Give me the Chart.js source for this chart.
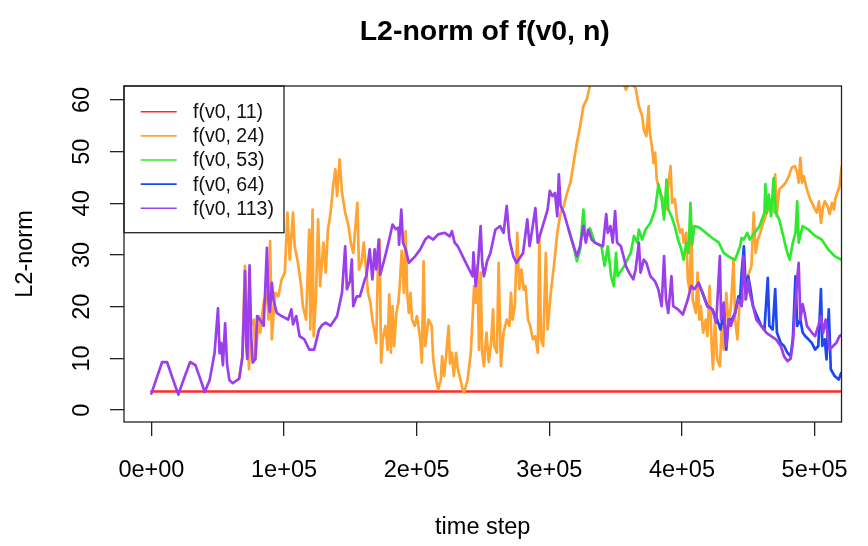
<!DOCTYPE html>
<html>
<head>
<meta charset="utf-8">
<title>L2-norm of f(v0, n)</title>
<script src="https://cdn.jsdelivr.net/npm/chart.js@4.4.1/dist/chart.umd.min.js"></script>
<style>
    html, body { margin: 0; padding: 0; background: #fff; }
    #wrap { width: 868px; height: 546px; }
</style>
</head>
<body>
<div id="wrap"><canvas id="normChart" width="868" height="546"></canvas></div>
<script>
// axis ticks
var xTicks = [0, 100000, 200000, 300000, 400000, 500000]
var xTickLabels = ['0e+00', '1e+05', '2e+05', '3e+05', '4e+05', '5e+05']
var yTicks = [0, 10, 20, 30, 40, 50, 60]
var yTickLabels = ['0', '10', '20', '30', '40', '50', '60']

// series names
var seriesNames = ['f(v0, 11)', 'f(v0, 24)', 'f(v0, 53)', 'f(v0, 64)', 'f(v0, 113)']

// f(v0, 11)
var redSteps = [0, 520500]
var redL2 = [3.6, 3.6]

// f(v0, 24) - hidden under f(v0, 113) before ~66000
var orangeSteps = [66200, 68600, 70500, 73600, 74900, 77300, 78400, 81000, 82100, 84600, 87100, 88300, 89500, 90800,
    93200, 95700, 98200, 100600, 102600, 104300, 106800, 108000, 110500, 112900, 114200, 116600, 119000, 119800,
    121500, 122300, 124000, 125700, 127200, 129700, 131400, 133100, 135100, 137000, 138700, 140000, 141900, 143700,
    146100, 148600, 150300, 152200, 155300, 156500, 158400, 160100, 161600, 163300, 165100, 166600, 168300, 169500,
    170700, 172000, 173200, 174400, 176400, 178100, 179300, 180600, 181800, 183000, 184700, 186200, 187200, 188700,
    190400, 191700, 192800, 194100, 195300, 196500, 198500, 200200, 202700, 203900, 205200, 206400, 208900, 211300,
    212500, 214200, 216200, 218200, 219200, 220700, 222400, 224100, 225100, 226600, 228000, 229700, 231000, 233000,
    234700, 235900, 238400, 240800, 242100, 243300, 244500, 245800, 247000, 248200, 249400, 250700, 252600, 254400,
    256100, 257600, 258500, 260500, 261800, 263500, 265500, 267900, 269900, 271100, 272300, 274000, 275800, 277300,
    279000, 280700, 282100, 283900, 285600, 287600, 289500, 291300, 292500, 293700, 295400, 297400, 298700, 301100,
    303500, 306000, 308500, 310900, 313400, 315900, 318300, 320800, 323200, 325700, 328200, 330600, 334300, 339500,
    345400, 351300, 355700, 357700, 360900, 365100, 367500, 370000, 371200, 373200, 374900, 375600, 377300, 378600,
    379800, 381000, 383500, 386000, 388000, 389700, 391400, 392600, 394600, 396300, 398700, 400200, 401300, 403200,
    404400, 405700, 407200, 408100, 410500, 411800, 413100, 414200, 416000, 417900, 419200, 420900, 422400, 423400,
    424900, 426600, 428600, 430300, 431500, 433400, 435200, 436900, 438900, 440100, 441800, 443300, 445000, 446700,
    448700, 450700, 452400, 454100, 455600, 457300, 459000, 460500, 462200, 464000, 465900, 467900, 469600, 470300,
    471400, 473300, 475800, 478200, 480700, 482700, 485100, 486900, 488000, 489300, 490500, 491700, 494200, 496700,
    499100, 501600, 503300, 504800, 506500, 507700, 509700, 511400, 513100, 514600, 515600, 517100, 518800, 520500]
var orangeL2 = [6.1, 10.3, 27.9, 7.9, 16.3, 17.5, 9.8, 18.2, 15, 20.8, 22.7, 17.5, 32.7, 13.7,
    22.7, 22, 25.3, 26.6, 38.2, 29.1, 38.2, 31.7, 28.5, 24, 20.1, 17.5, 34.9, 15.6,
    38.8, 14.3, 21.4, 36.9, 24, 32.4, 26.6, 34.9, 38.2, 43.3, 46.6, 41.4, 48.5, 42,
    38.2, 35.6, 32.4, 30.4, 40.1, 27.2, 28.5, 32.4, 27.9, 22.7, 20.8, 17.5, 15, 13,
    26.6, 33, 9.2, 13.7, 16.3, 11.7, 22.4, 11.1, 20.1, 12.4, 18.8, 20.8, 24, 30.8,
    22.7, 34.6, 22.7, 18.8, 22.7, 17.5, 16.3, 18.2, 13.7, 9.2, 28.8, 12.4, 17.5, 16.3,
    9.8, 6.6, 4, 5.9, 10.4, 6.6, 11.1, 16.3, 9, 11.1, 6.6, 11.1, 7.9, 5.9,
    4, 3.4, 5.9, 11.1, 17.5, 24, 20.8, 27.9, 11.7, 26.6, 11.1, 8.5, 15, 9.3,
    13, 19.5, 12.4, 11.1, 28.5, 8.5, 15, 17.5, 16.3, 22.7, 17.5, 20.1, 34.3, 23.4,
    27.2, 23.3, 24, 17.5, 16.3, 13.7, 14.3, 11.1, 33.7, 13.7, 12.4, 30.4, 15.6, 22.7,
    27.9, 34.3, 38.2, 39.5, 42, 44, 47.8, 51.7, 54.9, 58.8, 60.1, 62.7, 65.5, 68,
    69, 67, 63.5, 62, 63.5, 62.3, 58.8, 56.9, 54.3, 53, 58.8, 54, 51.1, 47.8,
    49.8, 44.6, 42, 40.8, 38.8, 43.3, 47.2, 40.1, 40.8, 36.9, 34.3, 35, 32.4, 34.3,
    25.3, 23.3, 35.6, 21.4, 18.8, 26.6, 17.5, 20.1, 15, 17.5, 14.3, 24, 12.4, 7.9,
    17.5, 9.8, 8.5, 17.5, 11.7, 22.7, 16.3, 20.1, 29.1, 17.5, 13.7, 20.1, 20.8, 21.4,
    25.3, 26.6, 27.9, 38.2, 30.4, 33, 34.3, 35.6, 36.9, 38.2, 39.5, 40.8, 38.2, 45.6,
    37.5, 42.7, 43.3, 44, 45.3, 46.9, 47.2, 46, 44, 48.8, 44, 45.3, 42.7, 40.8,
    39.5, 38.2, 40.4, 36.2, 39.5, 40.4, 39.5, 37.9, 40.1, 38.8, 40.8, 42, 43.3, 47.2]

// f(v0, 53) - hidden under f(v0, 113) before ~314000
var greenSteps = [314600, 318300, 320800, 323200, 325700, 327500, 330600, 334300, 339300, 341700, 344100, 346600,
    348600, 350300, 351500, 356500, 361400, 363800, 366300, 367500, 370000, 372500, 376200, 379800, 382300, 384700,
    386500, 388400, 389700, 392100, 394600, 397000, 399500, 401300, 403200, 404900, 406400, 407600, 409400, 413100,
    417900, 422900, 427800, 431500, 436400, 440100, 443800, 445000, 446700, 449200, 451100, 454800, 458500, 462200,
    462900, 464000, 465500, 467200, 469100, 470800, 473300, 477000, 478700, 481200, 483600, 485600, 486900, 488000,
    491000, 495400, 500400, 505300, 510200, 515100, 520100]
var greenL2 = [34.9, 31.7, 28.8, 31, 38.8, 33, 35.2, 32.4, 31.7, 27.9, 31.7, 25.9,
    24, 30.4, 25.9, 27.9, 30.4, 33.7, 32.4, 34.9, 33, 34.9, 36.2, 38.8, 43.7, 40.8,
    36.9, 44.6, 38.8, 37.5, 35.6, 33, 31.1, 29.1, 32.4, 30.4, 40.1, 32, 35.6, 35.3,
    34.3, 33.3, 32.4, 30.4, 29.5, 29.1, 31.7, 33.3, 33, 34.3, 33, 34.3, 35.6, 38.2,
    43.7, 38.2, 41.7, 37.5, 44.9, 38.2, 36.9, 33, 31.1, 29.1, 32.4, 34.3, 40.4, 32.4,
    35.6, 34.9, 33.7, 33, 31.1, 29.8, 29.1]

// f(v0, 64) - hidden under f(v0, 113) before ~412000
var blueSteps = [412500, 415500, 419200, 422900, 426600, 429000, 431500, 433400, 435200, 437600, 440100, 442600,
    443800, 445000, 446700, 448200, 450000, 451700, 453600, 456600, 459800, 462200, 464700, 465900, 468400, 470300,
    471600, 474500, 477000, 479500, 481900, 483600, 485600, 486900, 489300, 491000, 493000, 495400, 497900, 500400,
    502800, 504800, 505800, 507700, 509000, 510700, 512200, 515100, 518100, 520100]
var blueL2 = [24.6, 22.7, 20.1, 19.5, 17.5, 15.6, 18.8, 11.7, 17.5, 17.5, 18.8, 22,
    21.4, 26.6, 31.7, 22.7, 25.9, 23.4, 20.1, 18.2, 16.3, 15.6, 25.6, 16.3, 15.6, 23.4,
    15, 13, 12.4, 11.1, 10.4, 13.7, 25.9, 16.3, 17.5, 15, 14.3, 13.7, 13, 11.7,
    12.4, 23.4, 12.4, 13.7, 9.8, 19.5, 7.9, 6.6, 5.9, 7.2]

// f(v0, 113)
var purpleSteps = [0, 3700, 8100, 11800, 16200, 20300, 24400, 29200, 33200, 36900, 40200, 43900, 47600, 50200,
    51400, 52600, 53900, 55600, 57000, 58800, 61300, 66200, 68600, 69700, 70600, 71600, 72300, 74000, 75300, 76400,
    78400, 79700, 82100, 84600, 85600, 87100, 88300, 89300, 90800, 92000, 94500, 98200, 103100, 105500, 106800,
    109200, 111700, 115300, 119000, 122700, 126400, 128900, 131400, 135100, 140000, 143700, 146100, 147400, 149800,
    151100, 152200, 154800, 157200, 160900, 162100, 164600, 166600, 168300, 169500, 171400, 172500, 175600, 179300,
    181800, 184300, 186200, 186700, 188400, 189700, 191700, 194100, 199000, 202700, 206400, 208900, 212500, 216200,
    221200, 224900, 226600, 228600, 231000, 235900, 239600, 242100, 242800, 244500, 246300, 248200, 249400, 250700,
    253100, 255600, 259300, 262900, 265500, 267900, 269900, 272800, 275300, 280200, 283400, 285100, 287100, 289500,
    291300, 295000, 298700, 300400, 302400, 304300, 306000, 307200, 308500, 310900, 314600, 318300, 320800, 323200,
    325700, 327500, 329400, 331900, 334300, 340400, 342900, 344100, 346100, 347800, 349600, 351100, 354000, 357700,
    360100, 363300, 365100, 367500, 368800, 371200, 373200, 376200, 379800, 382300, 384700, 386500, 388000, 389700,
    392100, 393400, 397000, 400700, 404400, 406900, 409400, 412500, 415500, 419200, 422900, 425800, 428600, 429500,
    431500, 433400, 435200, 436900, 440100, 442600, 445000, 446300, 448200, 450000, 451100, 453600, 456100, 459800,
    463500, 467200, 470800, 474500, 477000, 479500, 481900, 483600, 485100, 486900, 488000, 489300, 491000, 492500,
    494200, 497900, 500400, 502800, 504800, 506500, 508300, 509700, 511400, 513900, 516400, 518800, 520500]
var purpleL2 = [3.2, 6, 9.3, 9.3, 6, 3, 6, 9.3, 8.7, 6, 3.5, 5.8, 11, 19.7,
    11, 13, 8.7, 16.8, 9, 5.8, 5.2, 6.1, 10.3, 18.7, 26.9, 12, 9.9, 28, 14, 9.2,
    9.9, 18.2, 17.4, 16.3, 22, 31.4, 20.8, 19, 24.6, 21.4, 18.8, 18.2, 17.5, 19.5, 16.6,
    18.2, 14.3, 13.7, 11.7, 11.7, 15.6, 16.5, 16.9, 16.3, 18.2, 22.7, 31.7, 23.4, 25,
    29.1, 20.1, 22, 22, 25.3, 25.9, 31.1, 25.3, 31.1, 27.2, 33, 26.2, 29.1, 33,
    35.9, 35, 35.3, 32, 38.8, 32.4, 31.1, 28.5, 29.8, 31.1, 33, 33.6, 33, 34,
    34.3, 33.6, 34.6, 32.4, 31.7, 29.1, 27.2, 25.9, 30.5, 24, 28.5, 35.6, 28.5, 25.9,
    28.8, 30.4, 34.9, 35.6, 34.3, 39.5, 33, 29.8, 28.5, 30.4, 36.9, 31.7, 34.9, 39.1,
    32.4, 35.6, 38.8, 42.4, 41.4, 42, 37.5, 45.6, 39.5, 38.2, 34.9, 31.7, 29.8, 31.7,
    35.6, 32.4, 34.9, 33, 32.4, 31.7, 37.9, 34.3, 35.6, 32.4, 38.5, 32.4, 31.7, 27.9,
    26.6, 25.3, 27.2, 32.4, 26.6, 29.1, 28.5, 25.9, 24.9, 23.3, 20.1, 29.8, 21.4, 18.8,
    25.9, 20.1, 19.5, 18.5, 21.4, 24, 23.4, 24.6, 22.7, 20.1, 19.5, 16.9, 29.8, 17.5,
    20.8, 12.4, 17.5, 16.3, 18.8, 21.4, 20.1, 29.8, 21.4, 25.3, 22.7, 20.1, 17.5, 16.3,
    15, 14.3, 13.7, 12.4, 10.4, 9.5, 9.9, 13, 18.8, 25.3, 28.5, 17.5, 20.5, 18.8,
    16.3, 15, 14.3, 16.3, 18.2, 15, 17.5, 15, 11.7, 12.4, 13, 14.3, 14.6]

var seriesColors = ['#ff2b2b', '#ffa333', '#2fe82f', '#1f48f5', '#9b3fec']

var fontFamily = '"Liberation Sans", Arial, Helvetica, sans-serif'

function toPoints(steps, values){
    return steps.map(function(s, i){ return {x: s, y: values[i]} })
}

function makeSet(i, steps, values){
    return {
        label: seriesNames[i],
        data: toPoints(steps, values),
        borderColor: seriesColors[i],
        backgroundColor: seriesColors[i],
        borderWidth: 2.7,
        pointRadius: 0,
        tension: 0,
        fill: false,
        borderJoinStyle: 'round',
        borderCapStyle: 'round',
        order: 5 - i   // last series on top, like R draws them
    }
}

// R-style frame, legend and texts
var rStyle = {
    id: 'rStyle',
    afterDatasetsDraw: function(chart){
        var ctx = chart.ctx
        var a = chart.chartArea
        ctx.save()
        // legend box
        var lx = a.left, ly = a.top, lw = 160, lh = 146.7
        ctx.fillStyle = '#fff'
        ctx.fillRect(lx, ly, lw, lh)
        ctx.strokeStyle = '#222'
        ctx.lineWidth = 1.3
        ctx.strokeRect(lx, ly, lw, lh)
        ctx.font = '19.5px ' + fontFamily
        ctx.textAlign = 'left'
        ctx.textBaseline = 'middle'
        chart.data.datasets.forEach(function(ds, i){
            var ry = ly + 25.7 + i * 24.15
            ctx.strokeStyle = ds.borderColor
            ctx.lineWidth = 1.6
            ctx.beginPath()
            ctx.moveTo(lx + 16.7, ry)
            ctx.lineTo(lx + 52.7, ry)
            ctx.stroke()
            ctx.fillStyle = '#111'
            ctx.fillText(ds.label, lx + 69, ry + 1)
        })
        // plot box
        ctx.strokeStyle = '#222'
        ctx.lineWidth = 1.3
        ctx.strokeRect(a.left, a.top, a.right - a.left, a.bottom - a.top)
        ctx.restore()
    },
    afterDraw: function(chart){
        var ctx = chart.ctx
        var a = chart.chartArea
        var cx = (a.left + a.right) / 2
        var cy = (a.top + a.bottom) / 2
        var yScale = chart.scales.y
        ctx.save()
        ctx.fillStyle = '#000'
        ctx.textAlign = 'center'
        ctx.textBaseline = 'alphabetic'
        ctx.font = 'bold 28.5px ' + fontFamily
        ctx.fillText('L2-norm of f(v0, n)', cx + 2, 40)
        ctx.font = '23.5px ' + fontFamily
        ctx.fillText('time step', cx, 534)
        // y tick labels, parallel to the axis
        yTicks.forEach(function(v, i){
            ctx.save()
            ctx.translate(88.5, yScale.getPixelForValue(v))
            ctx.rotate(-Math.PI / 2)
            ctx.fillText(yTickLabels[i], 0, 0)
            ctx.restore()
        })
        ctx.translate(32, cy)
        ctx.rotate(-Math.PI / 2)
        ctx.fillText('L2-norm', 0, 0)
        ctx.restore()
    }
}

var ctx = document.getElementById('normChart').getContext('2d')
var normChart = new Chart(ctx, {
    type: 'line',
    data: {
        datasets: [
            makeSet(0, redSteps, redL2),
            makeSet(1, orangeSteps, orangeL2),
            makeSet(2, greenSteps, greenL2),
            makeSet(3, blueSteps, blueL2),
            makeSet(4, purpleSteps, purpleL2)
        ]
    },
    options: {
        responsive: false,
        animation: false,
        devicePixelRatio: 1,
        layout: { padding: { top: 86, right: 11, left: 0, bottom: 0 } },
        plugins: {
            legend: { display: false },
            title: { display: false },
            tooltip: { enabled: false }
        },
        scales: {
            x: {
                type: 'linear',
                min: -20660,
                max: 520290,
                afterBuildTicks: function(scale){
                    scale.ticks = xTicks.map(function(v){ return {value: v} })
                },
                afterFit: function(scale){ scale.height = 124 },
                border: { display: false },
                grid: { drawOnChartArea: false, drawTicks: true, tickLength: 14, color: '#222', lineWidth: 1.3 },
                ticks: {
                    padding: 20,
                    color: '#000',
                    maxRotation: 0,
                    autoSkip: false,
                    font: { family: fontFamily, size: 23.5 },
                    callback: function(v, i){ return xTickLabels[i] }
                }
            },
            y: {
                type: 'linear',
                min: -2.3,
                max: 62.7,
                afterBuildTicks: function(scale){
                    scale.ticks = yTicks.map(function(v){ return {value: v} })
                },
                afterFit: function(scale){ scale.width = 124 },
                border: { display: false },
                grid: { drawOnChartArea: false, drawTicks: true, tickLength: 14, color: '#222', lineWidth: 1.3 },
                ticks: { display: false }
            }
        }
    },
    plugins: [rStyle]
})
</script>
</body>
</html>
